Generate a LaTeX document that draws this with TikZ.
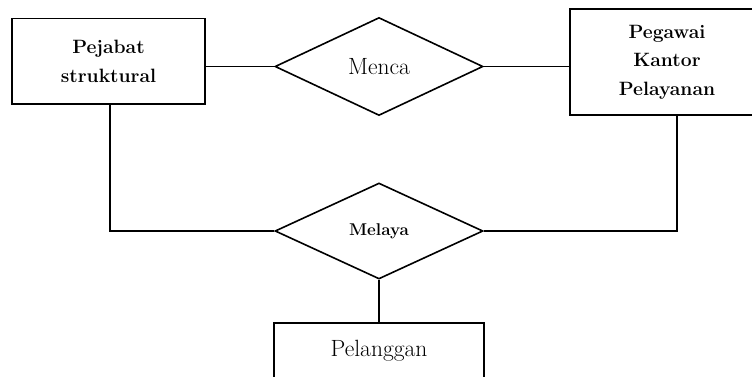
\documentclass[tikz,border=0pt]{standalone}
\usepackage{fontspec}
\usetikzlibrary{shapes.geometric}
\tikzset{
  ent/.style={draw, line width=1.6pt, rectangle, inner sep=0pt, align=center},
  rel/.style={draw, line width=1.6pt, diamond, inner sep=0pt, minimum width=208pt, minimum height=98pt},
  conn/.style={line width=1.6pt},
  bigtxt/.style={font=\fontsize{23.5}{29}\selectfont},
  bigbold/.style={font=\fontsize{19.3}{28.5}\selectfont\bfseries},
}
\begin{document}
\begin{tikzpicture}[x=1pt,y=-1pt]
\useasboundingbox (0,0) rectangle (752,376);
\clip (0,0) rectangle (752,376);
\node[ent, bigbold, minimum width=193pt, minimum height=85.5pt] (b1) at (108.5,61.25) {Pejabat\\struktural};
\node[ent, bigbold, minimum width=194pt, minimum height=106pt] (b2) at (667,62) {Pegawai\\Kantor\\Pelayanan};
\node[rel, bigtxt] (menca) at (379,66.5) {Menca};
\node[rel, font=\fontsize{17}{29}\selectfont\bfseries, minimum height=96pt] (melaya) at (379,231) {Melaya};
\node[ent, bigtxt, minimum width=210pt, minimum height=56pt] (pel) at (379,351) {Pelanggan};
\draw[conn] (menca.west) -- (menca.west -| b1.east);
\draw[conn] (menca.east) -- (menca.east -| b2.west);
\coordinate (lc) at (110,231);
\coordinate (rc) at (677,231);
\draw[conn] (b1.south -| lc) -- (lc) -- (melaya.west);
\draw[conn] (b2.south -| rc) -- (rc) -- (melaya.east);
\draw[conn] (melaya.south) -- (pel.north);
\end{tikzpicture}
\end{document}
